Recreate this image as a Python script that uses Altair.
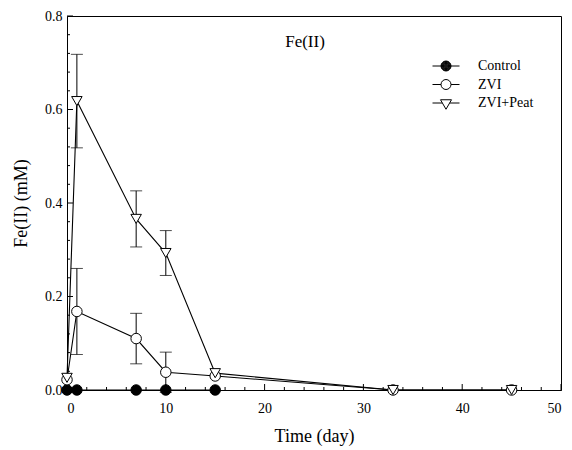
import altair as alt
import pandas as pd

FONT = "Liberation Serif"

series_names = ["Control", "ZVI", "ZVI+Peat"]

control_days = [0, 1, 7, 10, 15]
control_vals = [0.0, 0.0, 0.0, 0.0, 0.0]
control_err = [0.0, 0.0, 0.0, 0.0, 0.0]

zvi_days = [0, 1, 7, 10, 15, 33, 45]
zvi_vals = [0.022, 0.168, 0.110, 0.038, 0.030, 0.0, 0.0]
zvi_err = [0.0, 0.092, 0.054, 0.043, 0.0, 0.0, 0.0]

peat_days = [0, 1, 7, 10, 15, 33, 45]
peat_vals = [0.026, 0.618, 0.366, 0.293, 0.036, 0.0, 0.0]
peat_err = [0.0, 0.100, 0.060, 0.048, 0.0, 0.0, 0.0]

x_major = [0, 10, 20, 30, 40, 50]
x_minor = [2, 4, 6, 8, 12, 14, 16, 18, 22, 24, 26, 28, 32, 34, 36, 38, 42, 44, 46, 48]
y_major = [0.0, 0.2, 0.4, 0.6, 0.8]
y_minor = [0.04, 0.08, 0.12, 0.16, 0.24, 0.28, 0.32, 0.36, 0.44, 0.48, 0.52, 0.56, 0.64, 0.68, 0.72, 0.76]

rows = []
for name, d, v, e in [("Control", control_days, control_vals, control_err),
                      ("ZVI", zvi_days, zvi_vals, zvi_err),
                      ("ZVI+Peat", peat_days, peat_vals, peat_err)]:
    for di, vi, ei in zip(d, v, e):
        rows.append({"series": name, "day": di, "fe": vi, "lo": vi - ei, "hi": vi + ei, "err": ei})
df = pd.DataFrame(rows)
err_df = df[df["err"] > 0]

W, H = 494, 374

xscale = alt.Scale(domain=[0, 50], nice=False, zero=False)
yscale = alt.Scale(domain=[0, 0.8], nice=False, zero=False)

x_enc = alt.X("day:Q", scale=xscale, title="Time (day)",
              axis=alt.Axis(values=x_major, format="d", tickSize=0, labelPadding=11,
                            titlePadding=12, grid=False))
y_enc = alt.Y("fe:Q", scale=yscale, title="Fe(II) (mM)",
              axis=alt.Axis(values=y_major, format=".1f", tickSize=0, labelPadding=5,
                            titlePadding=14, grid=False))

lines = alt.Chart(df).mark_line(color="black", strokeWidth=1.1).encode(
    x=x_enc, y=y_enc, detail="series:N", order="day:Q")

bars = alt.Chart(err_df).mark_rule(color="black", strokeWidth=1).encode(
    x="day:Q", y="lo:Q", y2="hi:Q")
caps_hi = alt.Chart(err_df).mark_tick(color="black", thickness=1, size=12, orient="horizontal").encode(
    x="day:Q", y="hi:Q")
caps_lo = alt.Chart(err_df).mark_tick(color="black", thickness=1, size=12, orient="horizontal").encode(
    x="day:Q", y="lo:Q")

points = alt.Chart(df).mark_point(filled=True, stroke="black", strokeWidth=1, size=110, opacity=1).encode(
    x="day:Q", y="fe:Q",
    shape=alt.Shape("series:N", scale=alt.Scale(domain=series_names,
                                                range=["circle", "circle", "triangle-down"]), legend=None),
    fill=alt.Fill("series:N", scale=alt.Scale(domain=series_names,
                                              range=["black", "white", "white"]), legend=None),
)


def ring(r):
    return "M%g,0A%g,%g,0,1,1,%g,0A%g,%g,0,1,1,%g,0Z" % (r, r, r, -r, r, r, r)


line_part = "M-2.7,0L-1,0M1,0L2.7,0"
filled_circle_path = line_part + "".join(ring(r) for r in [1, 0.9, 0.8, 0.7, 0.6, 0.5, 0.4, 0.3, 0.2, 0.1])
open_circle_path = line_part + ring(1)
tri_path = "M-2.7,0L-0.75,0M0.75,0L2.7,0M-1.1,-0.65L1.1,-0.65L0,1.25Z"

legend_df = pd.DataFrame({"lseries": series_names})
legend_layer = alt.Chart(legend_df).mark_point(
    filled=False, stroke="black", strokeWidth=1, size=100, opacity=0).encode(
    shape=alt.Shape("lseries:N", scale=alt.Scale(domain=series_names,
                                                 range=[filled_circle_path, open_circle_path, tri_path]),
                    legend=alt.Legend(title=None, orient="none", legendX=372, legendY=43,
                                      labelFont=FONT, labelFontSize=14, labelColor="black",
                                      labelOffset=25, rowPadding=4.5, symbolSize=100,
                                      symbolOpacity=1, symbolFillColor="white",
                                      symbolStrokeColor="black", symbolStrokeWidth=1, padding=0,
                                      labelLimit=200)),
)

ytick_major = alt.Chart(pd.DataFrame({"v": y_major})).mark_rule(color="black", strokeWidth=1).encode(
    y="v:Q", x=alt.value(0), x2=alt.value(6))
ytick_minor = alt.Chart(pd.DataFrame({"v": y_minor})).mark_rule(color="black", strokeWidth=1).encode(
    y="v:Q", x=alt.value(0), x2=alt.value(3))
xtick_major = alt.Chart(pd.DataFrame({"v": x_major})).mark_rule(color="black", strokeWidth=1).encode(
    x="v:Q", y=alt.value(H), y2=alt.value(H - 6))
xtick_minor = alt.Chart(pd.DataFrame({"v": x_minor})).mark_rule(color="black", strokeWidth=1).encode(
    x="v:Q", y=alt.value(H), y2=alt.value(H - 3))

chart = alt.layer(
    lines, bars, caps_hi, caps_lo, ytick_major, ytick_minor, xtick_major, xtick_minor,
    points, legend_layer
).resolve_scale(
    shape="independent", fill="independent"
).properties(
    width=W, height=H,
    autosize=alt.AutoSizeParams(type="none"),
    padding={"left": 67, "top": 16, "right": 11, "bottom": 60},
    title=alt.TitleParams("Fe(II)", font=FONT, fontSize=17, fontWeight="normal", color="black",
                          anchor="middle", dx=-9, dy=46),
).configure_view(
    stroke="black", strokeWidth=1
).configure_axis(
    domainColor="black", domainWidth=1,
    labelFont=FONT, labelFontSize=14, labelColor="black",
    titleFont=FONT, titleFontSize=18, titleFontWeight="normal", titleColor="black",
)

chart.save("out.html", embed_options={"renderer": "svg", "actions": False})
